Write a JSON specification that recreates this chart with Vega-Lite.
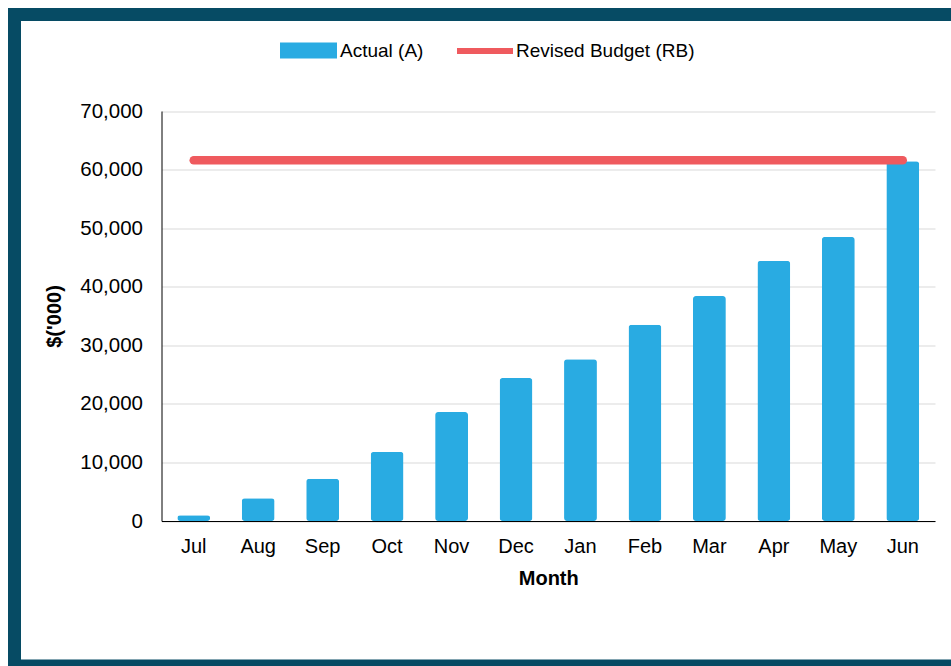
{
  "$schema": "https://vega.github.io/schema/vega-lite/v6.json",
  "width": 936.5,
  "height": 651.5,
  "autosize": {"type": "none"},
  "padding": {"left": 14.5, "top": 14.5, "right": 0, "bottom": 0},
  "background": "white",
  "config": {
    "font": "Liberation Sans",
    "view": {"fill": "white", "stroke": "#064b64", "strokeWidth": 13, "strokeDash": [936.5, 651.5, 1588], "strokeCap": "round"},
    "axis": {"labelColor": "#000", "titleColor": "#000", "labelFont": "Liberation Sans", "titleFont": "Liberation Sans"},
    "legend": {"labelFontSize": 19, "labelColor": "#000", "labelFont": "Liberation Sans", "padding": 0, "labelLimit": 400}
  },
  "data": {
    "values": [
      {"month": "Jul", "actual": 1000, "budget": 61600},
      {"month": "Aug", "actual": 3900, "budget": 61600},
      {"month": "Sep", "actual": 7200, "budget": 61600},
      {"month": "Oct", "actual": 11800, "budget": 61600},
      {"month": "Nov", "actual": 18600, "budget": 61600},
      {"month": "Dec", "actual": 24400, "budget": 61600},
      {"month": "Jan", "actual": 27600, "budget": 61600},
      {"month": "Feb", "actual": 33500, "budget": 61600},
      {"month": "Mar", "actual": 38400, "budget": 61600},
      {"month": "Apr", "actual": 44400, "budget": 61600},
      {"month": "May", "actual": 48500, "budget": 61600},
      {"month": "Jun", "actual": 61400, "budget": 61600}
    ]
  },
  "layer": [
    {
      "mark": {"type": "bar", "cornerRadius": 3},
      "encoding": {
        "x": {
          "field": "month", "type": "nominal", "sort": null,
          "scale": {"range": [147, 920.5], "paddingInner": 0.49, "paddingOuter": 0.245},
          "axis": {"title": "Month", "labelAngle": 0, "ticks": false, "labelPadding": 15, "labelFontSize": 20, "titleFontSize": 20, "titlePadding": 12, "domainColor": "#000", "offset": -145, "zindex": 1, "grid": false}
        },
        "y": {
          "field": "actual", "type": "quantitative",
          "scale": {"domain": [0, 70000], "range": [506.5, 96.5], "nice": false},
          "axis": {"title": "$('000)", "values": [0, 10000, 20000, 30000, 40000, 50000, 60000, 70000], "format": ",.0f", "ticks": false, "labelPadding": 19, "labelFontSize": 20.5, "titleFontSize": 20, "titlePadding": 15, "domainColor": "#000", "gridColor": "#d9d9d9", "offset": -147}
        },
        "fill": {
          "datum": "Actual (A)",
          "scale": {"range": ["#29abe2"]},
          "legend": {"orient": "none", "legendX": 265.5, "legendY": 7.5, "title": null, "symbolType": "M-1,-0.2807L1,-0.2807L1,0.2807L-1,0.2807Z", "symbolSize": 3249, "symbolStrokeWidth": 0, "labelOffset": 3}
        }
      }
    },
    {
      "mark": {"type": "line", "strokeWidth": 8.5, "strokeCap": "round"},
      "encoding": {
        "x": {"field": "month", "type": "nominal", "sort": null},
        "y": {"field": "budget", "type": "quantitative"},
        "stroke": {
          "datum": "Revised Budget (RB)",
          "scale": {"range": ["#ef5a5e"]},
          "legend": {"orient": "none", "legendX": 439.5, "legendY": 5.5, "title": null, "symbolType": "stroke", "symbolSize": 3136, "symbolStrokeWidth": 6, "labelOffset": 0}
        }
      }
    }
  ]
}
